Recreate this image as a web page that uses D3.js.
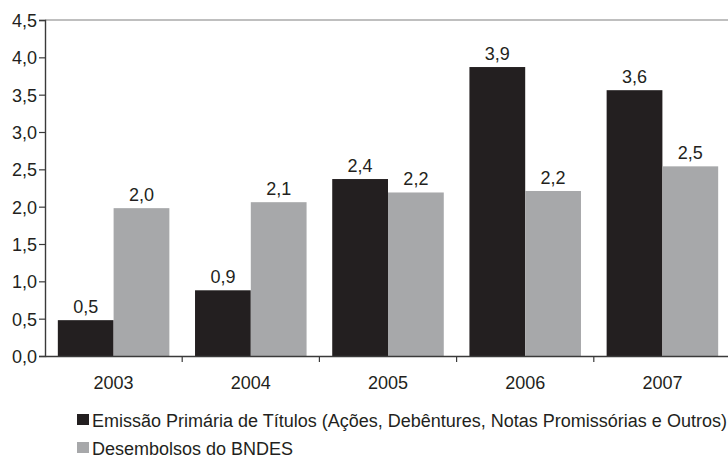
<!DOCTYPE html>
<html>
<head>
<meta charset="utf-8">
<script src="https://cdn.jsdelivr.net/npm/d3@7"></script>
<style>
  body { margin: 0; background: #fff; }
  svg text { font-family: Arial, "Liberation Sans", Helvetica, sans-serif; fill: #231f20; }
</style>
</head>
<body>
<div id="chart"></div>
<script>
// data
var years = ["2003", "2004", "2005", "2006", "2007"];
var emissao = [0.48, 0.88, 2.37, 3.87, 3.56];
var bndes = [1.98, 2.06, 2.19, 2.21, 2.54];
var seriesNames = [
    "Emissão Primária de Títulos (Ações, Debêntures, Notas Promissórias e Outros)",
    "Desembolsos do BNDES"
];
var yTicks = [0, 0.5, 1, 1.5, 2, 2.5, 3, 3.5, 4, 4.5];

var colors = ["#231f20", "#a7a8aa"];
var fullWidth = 728, fullHeight = 463;
var margin = {top: 20, right: -3, bottom: 107, left: 45};
var width = fullWidth - margin.left - margin.right;
var height = fullHeight - margin.top - margin.bottom;

var fmt = function(v) { return v.toFixed(1).replace(".", ","); };

var svg = d3.select("#chart").append("svg")
    .attr("width", fullWidth)
    .attr("height", fullHeight);

var g = svg.append("g")
    .attr("transform", "translate(" + margin.left + "," + margin.top + ")");

var x = d3.scaleBand().domain(years).range([0, width]).paddingInner(0).paddingOuter(0);
var x1 = d3.scaleBand().domain([0, 1]).range([0, x.bandwidth()]).paddingOuter(0.23).paddingInner(0);
var y = d3.scaleLinear().domain([0, 4.5]).range([height, 0]);

// top border of the plot
g.append("line")
    .attr("x1", 0).attr("x2", width)
    .attr("y1", 0).attr("y2", 0)
    .attr("stroke", "#808080")
    .attr("stroke-width", 1.2);

var rows = years.map(function(yr, i) { return {year: yr, vals: [emissao[i], bndes[i]]}; });

var groups = g.selectAll(".grp")
    .data(rows)
    .enter().append("g")
    .attr("class", "grp")
    .attr("transform", function(d) { return "translate(" + x(d.year) + ",0)"; });

groups.selectAll("rect")
    .data(function(d) { return d.vals; })
    .enter().append("rect")
    .attr("x", function(d, i) { return x1(i); })
    .attr("width", x1.bandwidth())
    .attr("y", function(d) { return y(d); })
    .attr("height", function(d) { return height - y(d); })
    .attr("fill", function(d, i) { return colors[i]; });

groups.selectAll(".val")
    .data(function(d) { return d.vals; })
    .enter().append("text")
    .attr("class", "val")
    .attr("x", function(d, i) { return x1(i) + x1.bandwidth() / 2; })
    .attr("y", function(d) { return y(d) - 7; })
    .attr("text-anchor", "middle")
    .style("font-size", "18px")
    .text(fmt);

// y axis
var yAxis = g.append("g")
    .call(d3.axisLeft(y).tickValues(yTicks).tickFormat(fmt).tickSize(6).tickPadding(2));
yAxis.selectAll("text").style("font-size", "18px").attr("dy", "0.36em");

// x axis
var xAxis = g.append("g")
    .attr("transform", "translate(0," + height + ")")
    .call(d3.axisBottom(x).tickSize(0).tickPadding(20));
xAxis.selectAll("text").style("font-size", "18px");

// tick marks between categories
g.selectAll(".sep")
    .data(years.slice(1))
    .enter().append("line")
    .attr("x1", function(d) { return x(d); })
    .attr("x2", function(d) { return x(d); })
    .attr("y1", height).attr("y2", height + 6)
    .attr("stroke", "#3a3a3a")
    .attr("stroke-width", 1.2);

svg.selectAll(".domain").attr("stroke", "#3a3a3a").attr("stroke-width", 1.4);
svg.selectAll(".tick line").attr("stroke", "#3a3a3a").attr("stroke-width", 1.2);

// legend
var legend = svg.selectAll(".legend")
    .data(seriesNames)
    .enter().append("g")
    .attr("class", "legend")
    .attr("transform", function(d, i) { return "translate(77," + (414 + i * 28) + ")"; });

legend.append("rect")
    .attr("width", 12).attr("height", 11)
    .attr("fill", function(d, i) { return colors[i]; });

legend.append("text")
    .attr("x", 15).attr("y", 12.5)
    .style("font-size", "18px")
    .text(function(d) { return d; });
</script>
</body>
</html>
